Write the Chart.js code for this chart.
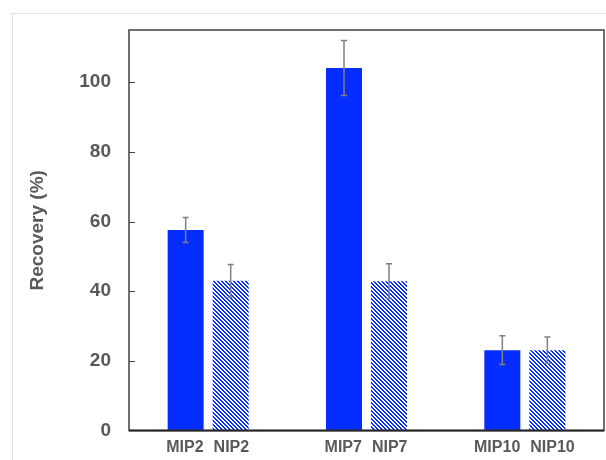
<!DOCTYPE html>
<html>
<head>
<meta charset="utf-8">
<style>
  html, body { margin: 0; padding: 0; background: #ffffff; }
  #wrap { width: 606px; height: 460px; }
</style>
<script src="https://cdn.jsdelivr.net/npm/chart.js@4/dist/chart.umd.min.js"></script>
</head>
<body>
<div id="wrap"><canvas id="chart" width="606" height="460"></canvas></div>
<script>
// Sample groups and per-bar labels
const groups = ['2', '7', '10'];
const mipLabels = ['MIP2', 'MIP7', 'MIP10'];
const nipLabels = ['NIP2', 'NIP7', 'NIP10'];

// Recovery (%) and standard deviations
const mipValues = [57.6, 104.1, 23.1];
const mipErrors = [3.6, 7.9, 4.1];
const nipValues = [43.0, 42.9, 23.1];
const nipErrors = [4.7, 5.0, 3.8];

// Axis settings
const yMax = 115;
const yStep = 20;
const yTitle = 'Recovery (%)';

const BLUE = 'rgb(5, 45, 255)';
const TEXT = '#595959';
const FONT = '"Liberation Sans", Arial, sans-serif';
const LABEL_GAP = 10;

// Diagonal hatch fill for the NIP bars
function makeHatch() {
  const c = document.createElement('canvas');
  c.width = 4; c.height = 4;
  const g = c.getContext('2d');
  g.fillStyle = '#ffffff';
  g.fillRect(0, 0, 4, 4);
  g.fillStyle = BLUE;
  for (let y = 0; y < 4; y++) {
    for (let x = 0; x < 4; x++) {
      const d = ((x - y) % 4 + 4) % 4;
      if (d === 0 || d === 1) g.fillRect(x, y, 1, 1);
    }
  }
  return document.getElementById('chart').getContext('2d').createPattern(c, 'repeat');
}

// Page frame, plot box, inner ticks, error bars and bar labels
const decorations = {
  id: 'decorations',
  beforeDraw(chart) {
    const ctx = chart.ctx;
    ctx.save();
    ctx.fillStyle = '#ffffff';
    ctx.fillRect(0, 0, chart.width, chart.height);
    ctx.strokeStyle = '#e4e4e4';
    ctx.lineWidth = 1;
    ctx.beginPath();
    ctx.moveTo(10, 13.5); ctx.lineTo(chart.width, 13.5);
    ctx.moveTo(12.5, 13); ctx.lineTo(12.5, chart.height);
    ctx.stroke();
    ctx.restore();
  },
  afterDatasetsDraw(chart) {
    const ctx = chart.ctx;
    const a = chart.chartArea;
    const y = chart.scales.y;
    ctx.save();

    // error bars
    const errs = [mipErrors, nipErrors];
    const vals = [mipValues, nipValues];
    ctx.strokeStyle = '#808080';
    ctx.lineWidth = 1.5;
    chart.data.datasets.forEach((ds, di) => {
      const meta = chart.getDatasetMeta(di);
      meta.data.forEach((bar, i) => {
        const v = vals[di][i], e = errs[di][i];
        const yt = y.getPixelForValue(v + e);
        const yb = y.getPixelForValue(v - e);
        ctx.beginPath();
        ctx.moveTo(bar.x, yt); ctx.lineTo(bar.x, yb);
        ctx.moveTo(bar.x - 3, yt); ctx.lineTo(bar.x + 3, yt);
        ctx.moveTo(bar.x - 3, yb); ctx.lineTo(bar.x + 3, yb);
        ctx.stroke();
      });
    });

    // plot box
    ctx.strokeStyle = '#404040';
    ctx.lineWidth = 1.5;
    ctx.strokeRect(a.left, a.top, a.right - a.left, a.bottom - a.top);
    ctx.strokeStyle = '#262626';
    ctx.lineWidth = 2;
    ctx.beginPath();
    ctx.moveTo(a.left, a.bottom); ctx.lineTo(a.right, a.bottom);
    ctx.stroke();

    // inner tick marks
    ctx.strokeStyle = '#404040';
    ctx.lineWidth = 1.2;
    ctx.beginPath();
    for (let t = yStep; t <= 100; t += yStep) {
      const py = Math.round(y.getPixelForValue(t)) + 0.5;
      ctx.moveTo(a.left, py); ctx.lineTo(a.left + 6, py);
    }
    ctx.stroke();

    // bar labels, pushed apart within a group when they would touch
    ctx.fillStyle = TEXT;
    ctx.font = 'bold 16px ' + FONT;
    ctx.textAlign = 'center';
    ctx.textBaseline = 'middle';
    const mipBars = chart.getDatasetMeta(0).data;
    const nipBars = chart.getDatasetMeta(1).data;
    groups.forEach((g, i) => {
      let xa = mipBars[i].x, xb = nipBars[i].x;
      const wa = ctx.measureText(mipLabels[i]).width;
      const wb = ctx.measureText(nipLabels[i]).width;
      const gap = (xb - wb / 2) - (xa + wa / 2);
      if (gap < LABEL_GAP) {
        const shift = (LABEL_GAP - gap) / 2;
        xa -= shift; xb += shift;
      }
      ctx.fillText(mipLabels[i], xa, a.bottom + 17);
      ctx.fillText(nipLabels[i], xb, a.bottom + 17);
    });
    ctx.restore();
  }
};

const hatch = makeHatch();

new Chart(document.getElementById('chart'), {
  type: 'bar',
  data: {
    labels: groups,
    datasets: [
      {
        label: 'MIP',
        data: mipValues,
        backgroundColor: BLUE,
        borderWidth: 0,
        barPercentage: 0.8,
        categoryPercentage: 0.5685
      },
      {
        label: 'NIP',
        data: nipValues,
        backgroundColor: hatch,
        borderWidth: 0,
        barPercentage: 0.8,
        categoryPercentage: 0.5685
      }
    ]
  },
  options: {
    responsive: false,
    animation: false,
    devicePixelRatio: 1,
    layout: { padding: { left: 0, top: 30, right: 2, bottom: 28 } },
    plugins: {
      legend: { display: false },
      tooltip: { enabled: false }
    },
    scales: {
      x: {
        grid: { display: false },
        border: { display: false },
        ticks: { display: false },
        afterFit(scale) { scale.height = 0; }
      },
      y: {
        min: 0,
        max: yMax,
        grid: { display: false, drawTicks: false },
        border: { display: false },
        ticks: {
          stepSize: yStep,
          includeBounds: false,
          padding: 18,
          color: TEXT,
          font: { family: FONT, size: 19, weight: 'bold' },
          callback: (v) => (v % yStep === 0 ? v : null)
        },
        title: {
          display: true,
          text: yTitle,
          color: TEXT,
          font: { family: FONT, size: 19, weight: 'bold' },
          padding: { top: 26, bottom: 0 }
        },
        afterFit(scale) { scale.width = 129; }
      }
    }
  },
  plugins: [decorations]
});
</script>
</body>
</html>
